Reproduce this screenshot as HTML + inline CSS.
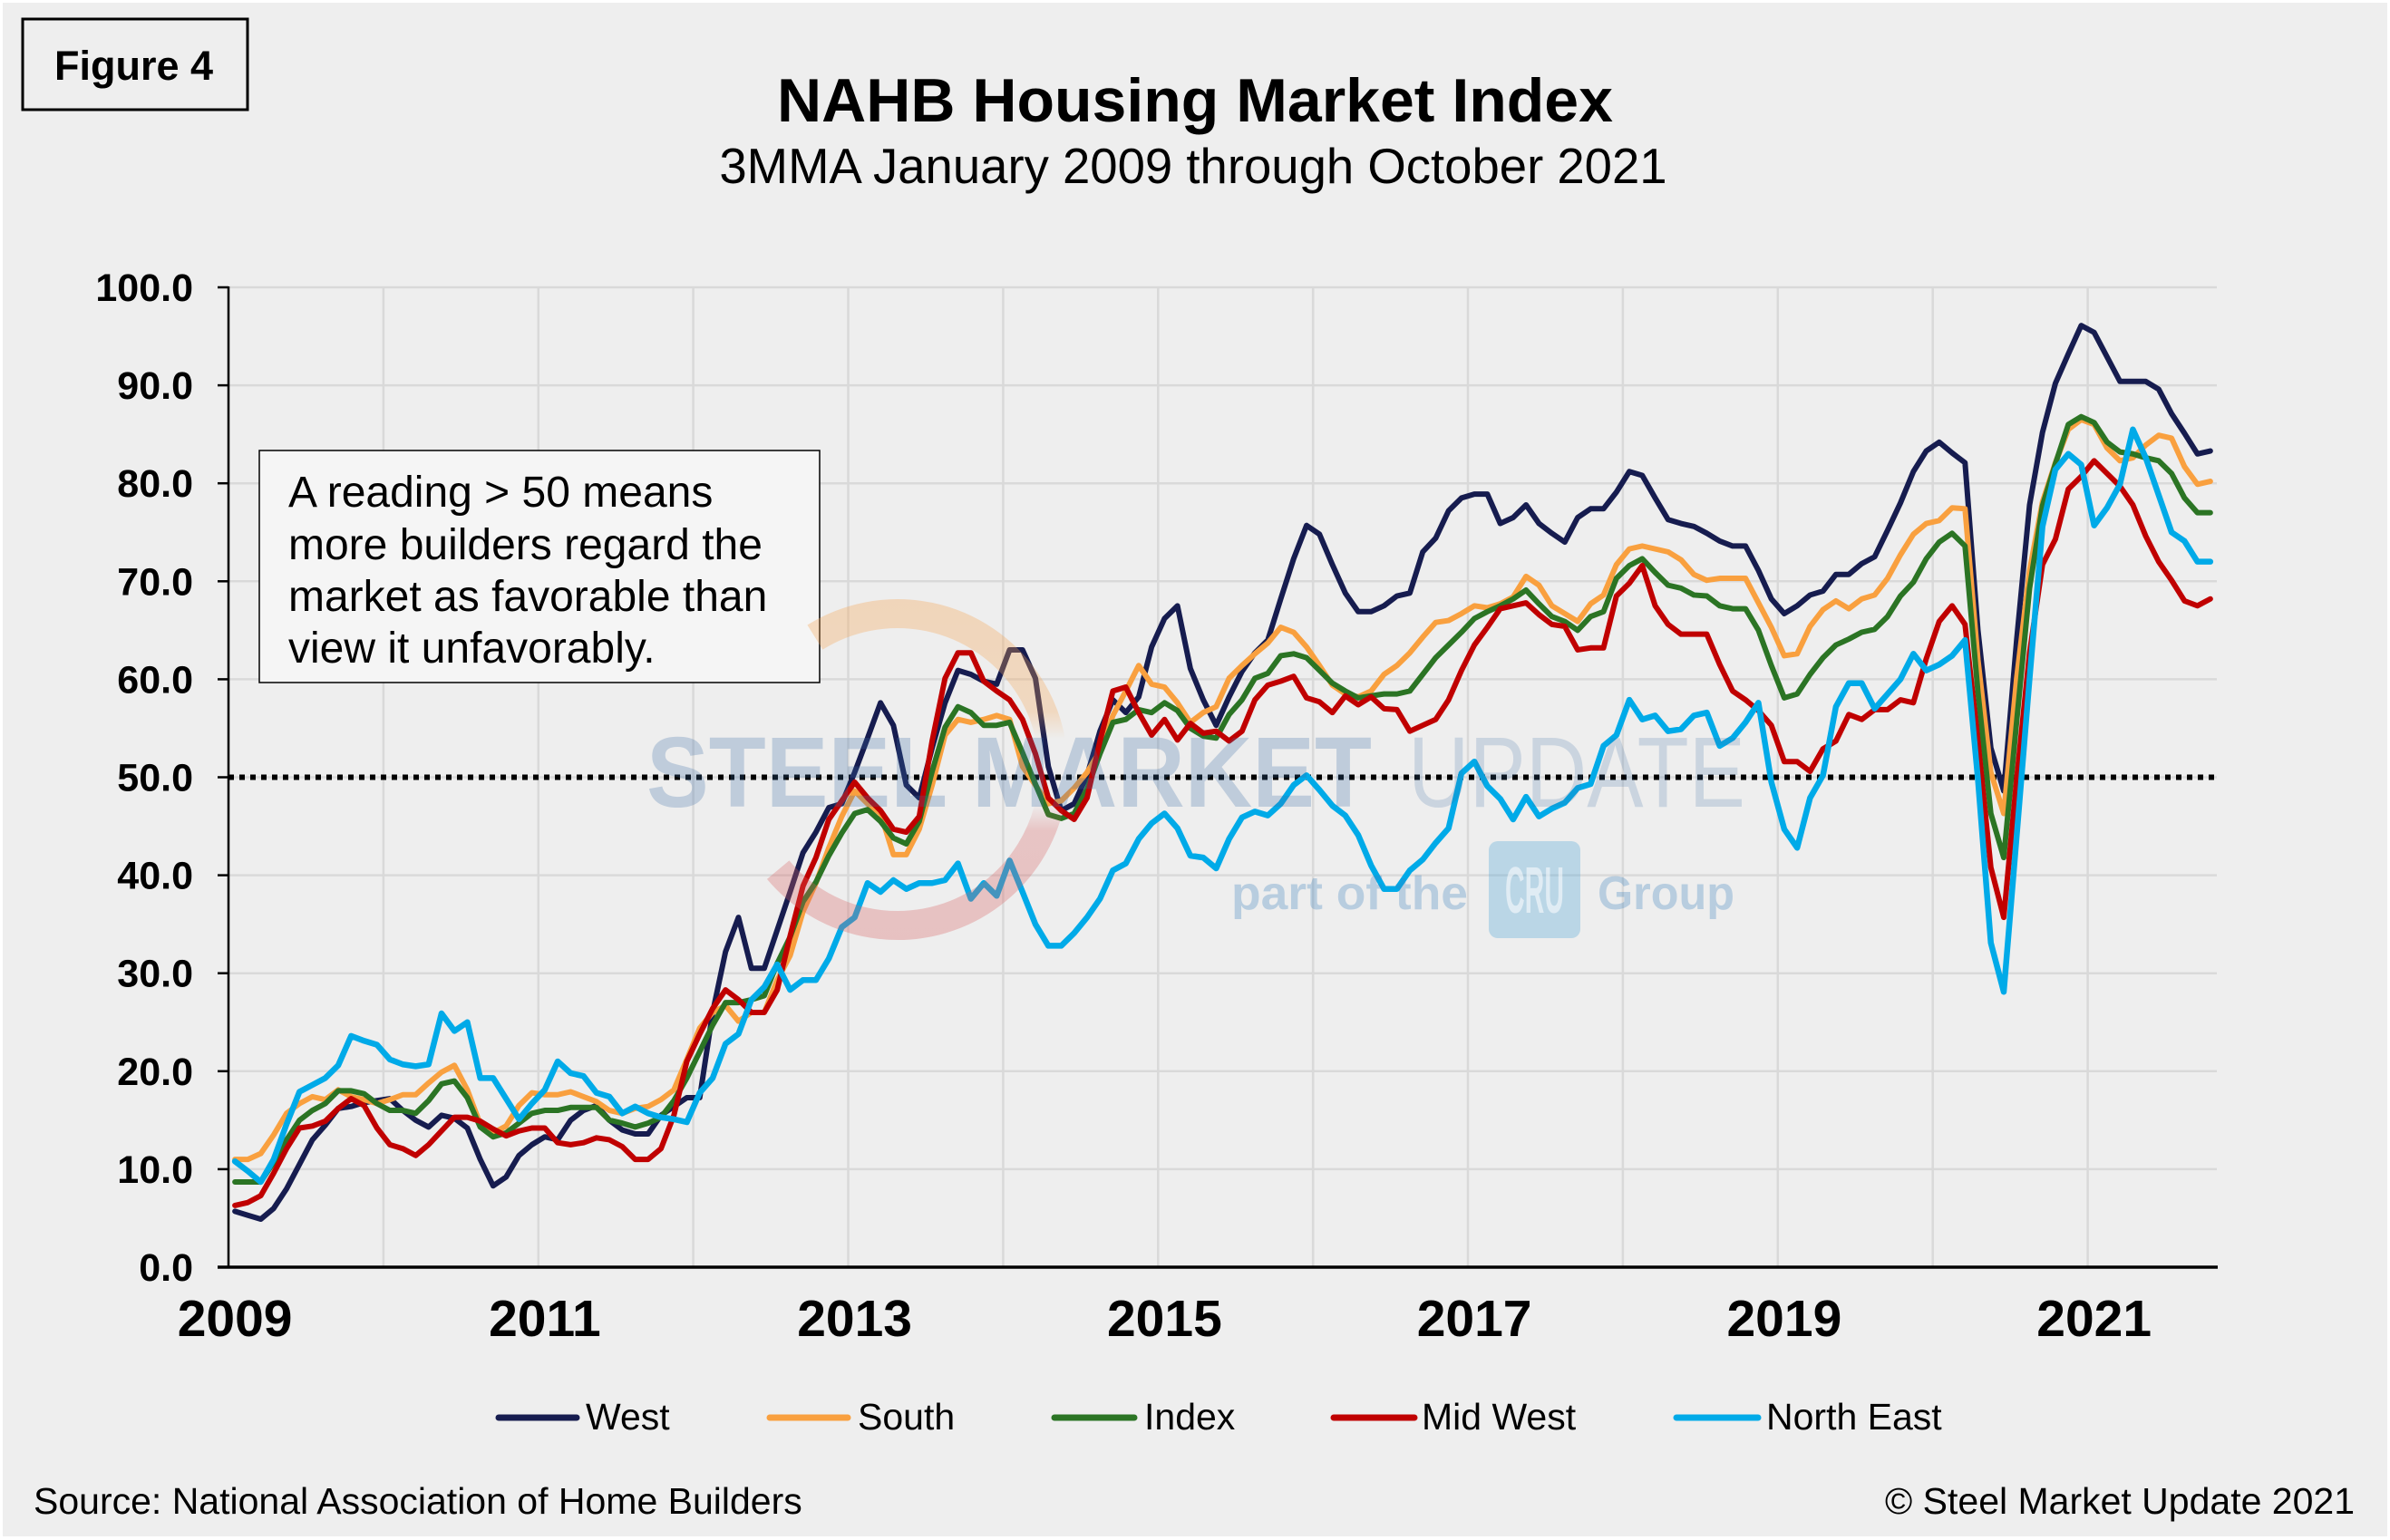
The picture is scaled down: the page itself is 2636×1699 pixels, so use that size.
<!DOCTYPE html>
<html>
<head>
<meta charset="utf-8">
<style>
  html,body{margin:0;padding:0;background:#ffffff;}
  svg{display:block;}
  text{font-family:"Liberation Sans",Arial,sans-serif;}
</style>
</head>
<body>
<svg xmlns="http://www.w3.org/2000/svg" width="2636" height="1699" viewBox="0 0 2636 1699">
  <defs>
    <linearGradient id="cres" x1="0" y1="661" x2="0" y2="1037" gradientUnits="userSpaceOnUse">
      <stop offset="0" stop-color="#F5A555" stop-opacity="0.34"/>
      <stop offset="0.33" stop-color="#F5A555" stop-opacity="0.3"/>
      <stop offset="0.41" stop-color="#F5A555" stop-opacity="0"/>
      <stop offset="0.6" stop-color="#D86262" stop-opacity="0"/>
      <stop offset="0.68" stop-color="#D86262" stop-opacity="0.3"/>
      <stop offset="1" stop-color="#D86262" stop-opacity="0.32"/>
    </linearGradient>
  </defs>

  <!-- background -->
  <rect x="0" y="0" width="2636" height="1699" fill="#ffffff"/>
  <rect x="3" y="3" width="2630" height="1692" fill="#EEEEEE"/>

  <!-- Figure box -->
  <rect x="25" y="21" width="248" height="100" fill="none" stroke="#000" stroke-width="3"/>
  <text x="60" y="88" font-size="45" font-weight="bold" fill="#000">Figure 4</text>

  <!-- Titles -->
  <text x="1318" y="134" font-size="68" font-weight="bold" text-anchor="middle" fill="#000">NAHB Housing Market Index</text>
  <text x="1316" y="202" font-size="54.5" text-anchor="middle" fill="#000">3MMA January 2009 through October 2021</text>

  <!-- Gridlines -->
  <g stroke="#D9D9D9" stroke-width="2.5">
    <line x1="252" y1="317" x2="2445" y2="317"/>
    <line x1="252" y1="425.1" x2="2445" y2="425.1"/>
    <line x1="252" y1="533.2" x2="2445" y2="533.2"/>
    <line x1="252" y1="641.3" x2="2445" y2="641.3"/>
    <line x1="252" y1="749.4" x2="2445" y2="749.4"/>
    <line x1="252" y1="857.5" x2="2445" y2="857.5"/>
    <line x1="252" y1="965.6" x2="2445" y2="965.6"/>
    <line x1="252" y1="1073.7" x2="2445" y2="1073.7"/>
    <line x1="252" y1="1181.8" x2="2445" y2="1181.8"/>
    <line x1="252" y1="1289.9" x2="2445" y2="1289.9"/>
    <line x1="422.9" y1="317" x2="422.9" y2="1398"/>
    <line x1="593.8" y1="317" x2="593.8" y2="1398"/>
    <line x1="764.6" y1="317" x2="764.6" y2="1398"/>
    <line x1="935.5" y1="317" x2="935.5" y2="1398"/>
    <line x1="1106.4" y1="317" x2="1106.4" y2="1398"/>
    <line x1="1277.3" y1="317" x2="1277.3" y2="1398"/>
    <line x1="1448.2" y1="317" x2="1448.2" y2="1398"/>
    <line x1="1619" y1="317" x2="1619" y2="1398"/>
    <line x1="1789.9" y1="317" x2="1789.9" y2="1398"/>
    <line x1="1960.8" y1="317" x2="1960.8" y2="1398"/>
    <line x1="2131.7" y1="317" x2="2131.7" y2="1398"/>
    <line x1="2302.6" y1="317" x2="2302.6" y2="1398"/>
  </g>

  <!-- Y axis + ticks -->
  <g stroke="#000" stroke-width="2.5">
    <line x1="252" y1="316" x2="252" y2="1398"/>
    <line x1="240" y1="317" x2="252" y2="317"/>
    <line x1="240" y1="425.1" x2="252" y2="425.1"/>
    <line x1="240" y1="533.2" x2="252" y2="533.2"/>
    <line x1="240" y1="641.3" x2="252" y2="641.3"/>
    <line x1="240" y1="749.4" x2="252" y2="749.4"/>
    <line x1="240" y1="857.5" x2="252" y2="857.5"/>
    <line x1="240" y1="965.6" x2="252" y2="965.6"/>
    <line x1="240" y1="1073.7" x2="252" y2="1073.7"/>
    <line x1="240" y1="1181.8" x2="252" y2="1181.8"/>
    <line x1="240" y1="1289.9" x2="252" y2="1289.9"/>
  </g>

  <!-- Y labels -->
  <g font-size="43" font-weight="bold" text-anchor="end" fill="#000">
    <text x="213" y="332">100.0</text>
    <text x="213" y="440.1">90.0</text>
    <text x="213" y="548.2">80.0</text>
    <text x="213" y="656.3">70.0</text>
    <text x="213" y="764.4">60.0</text>
    <text x="213" y="872.5">50.0</text>
    <text x="213" y="980.6">40.0</text>
    <text x="213" y="1088.7">30.0</text>
    <text x="213" y="1196.8">20.0</text>
    <text x="213" y="1304.9">10.0</text>
    <text x="213" y="1413">0.0</text>
  </g>

  <!-- X labels -->
  <g font-size="57" font-weight="bold" text-anchor="middle" fill="#000">
    <text x="259.1" y="1474">2009</text>
    <text x="600.9" y="1474">2011</text>
    <text x="942.6" y="1474">2013</text>
    <text x="1284.4" y="1474">2015</text>
    <text x="1626.1" y="1474">2017</text>
    <text x="1967.9" y="1474">2019</text>
    <text x="2309.7" y="1474">2021</text>
  </g>

  <!-- 50 dotted line -->
  <line x1="252" y1="857.5" x2="2442" y2="857.5" stroke="#000" stroke-width="6" stroke-dasharray="6 6"/>

  <!-- Annotation box -->
  <rect x="286" y="497" width="618" height="256" fill="#F5F5F5" stroke="#000" stroke-width="1.5"/>
  <g font-size="48" fill="#000">
    <text x="318" y="559">A reading &gt; 50 means</text>
    <text x="318" y="617">more builders regard the</text>
    <text x="318" y="674">market as favorable than</text>
    <text x="318" y="731">view it unfavorably.</text>
  </g>

  <!-- Data series -->
  <g transform="translate(259.12 1398) scale(14.24 -10.81)" fill="none" stroke-linejoin="round" stroke-linecap="round">
    <polyline vector-effect="non-scaling-stroke" stroke="#161C4F" stroke-width="6" points="0,5.7 1,5.3 2,4.9 3,6 4,8 5,10.5 6,13 7,14.5 8,16.2 9,16.4 10,16.8 11,17 12,17.2 13,16 14,15 15,14.3 16,15.5 17,15.2 18,14.2 19,11 20,8.3 21,9.2 22,11.4 23,12.5 24,13.3 25,13 26,15 27,16 28,16.5 29,15 30,14 31,13.6 32,13.6 33,15.5 34,16.4 35,17.3 36,17.3 37,26 38,32.2 39,35.7 40,30.5 41,30.5 42,34.4 43,38.3 44,42.3 45,44.4 46,46.9 47,47.3 48,50.5 49,54 50,57.6 51,55.3 52,49.2 53,47.9 54,53 55,57.6 56,60.9 57,60.5 58,59.8 59,59.5 60,63 61,63 62,60.1 63,51.1 64,46.6 65,47.3 66,50.2 67,54.7 68,57.9 69,56.6 70,58.2 71,63.3 72,66.2 73,67.5 74,61.1 75,57.9 76,55.3 77,58.2 78,60.8 79,62.7 80,64 81,68.2 82,72.3 83,75.7 84,74.8 85,71.7 86,68.8 87,66.9 88,66.9 89,67.5 90,68.5 91,68.8 92,73 93,74.4 94,77.2 95,78.5 96,78.9 97,78.9 98,75.9 99,76.5 100,77.8 101,75.9 102,74.9 103,74 104,76.5 105,77.4 106,77.4 107,79.1 108,81.2 109,80.8 110,78.5 111,76.3 112,75.9 113,75.6 114,74.9 115,74.1 116,73.6 117,73.6 118,71.1 119,68.2 120,66.7 121,67.5 122,68.6 123,69 124,70.7 125,70.7 126,71.8 127,72.5 128,75.2 129,78 130,81.2 131,83.3 132,84.2 133,83.1 134,82.1 135,65 136,53 137,48.6 138,64 139,77.8 140,85.2 141,90.2 142,93.2 143,96.1 144,95.4 145,92.9 146,90.4 147,90.4 148,90.4 149,89.6 150,87.1 151,85.1 152,83 153,83.3"/>
    <polyline vector-effect="non-scaling-stroke" stroke="#F9A03F" stroke-width="6" points="0,11 1,11 2,11.6 3,13.5 4,15.7 5,16.7 6,17.4 7,17.1 8,18.1 9,17.4 10,17.1 11,16.7 12,17.1 13,17.6 14,17.6 15,18.8 16,19.9 17,20.6 18,18.1 19,14.6 20,13.7 21,14.4 22,16.5 23,17.8 24,17.6 25,17.6 26,17.9 27,17.4 28,16.9 29,16 30,15.7 31,16.2 32,16.4 33,17.1 34,18.1 35,21.2 36,24.4 37,26 38,26.7 39,25.1 40,26 41,26 42,29.3 43,31.8 44,36.3 45,39.2 46,42.8 47,46 48,48.6 49,47.3 50,46.3 51,42.1 52,42.1 53,44.7 54,49.2 55,54.3 56,55.9 57,55.6 58,55.9 59,56.3 60,55.9 61,51.1 62,49.2 63,47.3 64,47.6 65,48.9 66,50.5 67,52.7 68,56.3 69,58.8 70,61.4 71,59.5 72,59.2 73,57.6 74,55.6 75,56.6 76,57.2 77,60.1 78,61.4 79,62.6 80,63.7 81,65.3 82,64.8 83,63.3 84,61.4 85,59.4 86,58.5 87,58.2 88,58.8 89,60.5 90,61.4 91,62.7 92,64.3 93,65.8 94,66 95,66.7 96,67.5 97,67.3 98,67.7 99,68.4 100,70.5 101,69.6 102,67.5 103,66.7 104,65.9 105,67.7 106,68.6 107,71.7 108,73.3 109,73.6 110,73.3 111,73 112,72.2 113,70.7 114,70.1 115,70.3 116,70.3 117,70.3 118,67.8 119,65.3 120,62.4 121,62.6 122,65.4 123,67.1 124,68 125,67.2 126,68.2 127,68.6 128,70.3 129,72.7 130,74.8 131,75.9 132,76.2 133,77.5 134,77.4 135,62 136,50.5 137,46.3 138,60.1 139,71.1 140,78.1 141,82.1 142,85.5 143,86.5 144,86 145,83.6 146,82.3 147,82.6 148,83.9 149,84.9 150,84.6 151,81.7 152,79.9 153,80.2"/>
    <polyline vector-effect="non-scaling-stroke" stroke="#2B7424" stroke-width="6" points="0,8.7 1,8.7 2,8.7 3,10.7 4,13 5,15 6,16 7,16.7 8,18 9,18 10,17.7 11,16.7 12,16 13,16 14,15.7 15,17 16,18.7 17,19 18,17.3 19,14.3 20,13.3 21,13.7 22,14.7 23,15.7 24,16 25,16 26,16.3 27,16.3 28,16.3 29,15 30,14.7 31,14.3 32,14.7 33,15.3 34,17 35,19.3 36,22 37,24.7 38,27 39,27 40,27.3 41,27.7 42,31 43,33.7 44,37.3 45,39.3 46,42 47,44.3 48,46.3 49,46.7 50,45.5 51,43.8 52,43.2 53,45.5 54,50.6 55,55.1 56,57.2 57,56.6 58,55.3 59,55.3 60,55.6 61,52.5 62,49.3 63,46.2 64,45.8 65,46.3 66,48.8 67,52.4 68,55.6 69,55.9 70,56.9 71,56.6 72,57.6 73,56.8 74,55 75,54.2 76,54 77,56.4 78,57.9 79,60.1 80,60.6 81,62.4 82,62.6 83,62.2 84,60.9 85,59.6 86,58.8 87,58.1 88,58.3 89,58.5 90,58.5 91,58.8 92,60.5 93,62.2 94,63.5 95,64.8 96,66.2 97,66.9 98,67.5 99,68.2 100,69.1 101,67.7 102,66.4 103,65.9 104,65 105,66.4 106,66.9 107,70.3 108,71.6 109,72.3 110,70.9 111,69.6 112,69.3 113,68.6 114,68.5 115,67.5 116,67.2 117,67.2 118,65 119,61.4 120,58.1 121,58.5 122,60.5 123,62.2 124,63.5 125,64.1 126,64.8 127,65.1 128,66.4 129,68.5 130,69.9 131,72.3 132,74 133,74.9 134,73.6 135,58.7 136,46.3 137,41.8 138,55.7 139,69.3 140,77.7 141,82 142,86 143,86.8 144,86.2 145,84.2 146,83.2 147,83 148,82.6 149,82.3 150,81 151,78.5 152,77 153,77"/>
    <polyline vector-effect="non-scaling-stroke" stroke="#C00000" stroke-width="6" points="0,6.3 1,6.6 2,7.3 3,9.6 4,12.1 5,14.2 6,14.4 7,14.9 8,16.2 9,17.2 10,16.5 11,14.2 12,12.5 13,12.1 14,11.4 15,12.5 16,13.9 17,15.3 18,15.3 19,14.9 20,14.1 21,13.4 22,13.9 23,14.2 24,14.2 25,12.7 26,12.5 27,12.7 28,13.2 29,13 30,12.3 31,11 32,11 33,12.1 34,15.5 35,21 36,23.8 37,26.4 38,28.3 39,27.3 40,26 41,26 42,28.3 43,33.8 44,38.9 45,41.8 46,45.7 47,47.6 48,49.5 49,47.9 50,46.6 51,44.7 52,44.4 53,46 54,53.7 55,60.1 56,62.7 57,62.7 58,59.8 59,58.8 60,57.9 61,55.9 62,52.4 63,47.9 64,46.6 65,45.7 66,47.9 67,53.7 68,58.8 69,59.2 70,56.6 71,54.3 72,55.9 73,53.8 74,55.5 75,54.5 76,54.7 77,53.7 78,54.7 79,57.9 80,59.4 81,59.8 82,60.3 83,58.1 84,57.7 85,56.6 86,58.3 87,57.4 88,58.2 89,57 90,56.9 91,54.7 92,55.3 93,55.9 94,57.9 95,60.9 96,63.5 97,65.3 98,67.2 99,67.5 100,67.8 101,66.6 102,65.6 103,65.4 104,63 105,63.2 106,63.2 107,68.5 108,69.8 109,71.6 110,67.5 111,65.6 112,64.6 113,64.6 114,64.6 115,61.5 116,58.8 117,57.9 118,56.8 119,55.3 120,51.6 121,51.6 122,50.6 123,52.9 124,53.7 125,56.4 126,55.9 127,56.9 128,56.9 129,57.9 130,57.6 131,62.1 132,65.9 133,67.5 134,65.6 135,53.7 136,40.8 137,35.7 138,49.8 139,62.7 140,71.7 141,74.3 142,79.4 143,80.7 144,82.3 145,81 146,79.7 147,77.8 148,74.6 149,72 150,70.1 151,68 152,67.5 153,68.2"/>
    <polyline vector-effect="non-scaling-stroke" stroke="#00AAE8" stroke-width="6.5" points="0,10.8 1,9.8 2,8.7 3,11 4,14.6 5,17.9 6,18.6 7,19.3 8,20.6 9,23.6 10,23.1 11,22.7 12,21.2 13,20.7 14,20.5 15,20.7 16,25.9 17,24.1 18,25 19,19.3 20,19.3 21,17.2 22,15.1 23,16.7 24,18.1 25,21 26,19.8 27,19.5 28,17.8 29,17.4 30,15.7 31,16.4 32,15.7 33,15.3 34,15.1 35,14.8 36,17.8 37,19.3 38,22.8 39,23.8 40,27.3 41,28.6 42,30.9 43,28.3 44,29.3 45,29.3 46,31.5 47,34.7 48,35.7 49,39.2 50,38.3 51,39.5 52,38.6 53,39.2 54,39.2 55,39.5 56,41.2 57,37.6 58,39.2 59,37.9 60,41.5 61,38.3 62,35 63,32.8 64,32.8 65,34.1 66,35.7 67,37.6 68,40.5 69,41.2 70,43.7 71,45.3 72,46.3 73,44.8 74,42 75,41.8 76,40.7 77,43.7 78,45.9 79,46.5 80,46.1 81,47.3 82,49.2 83,50.2 84,48.7 85,47.1 86,46.1 87,44.1 88,41 89,38.6 90,38.6 91,40.5 92,41.6 93,43.3 94,44.8 95,50.4 96,51.6 97,49.1 98,47.8 99,45.7 100,48 101,46 102,46.8 103,47.4 104,48.9 105,49.3 106,53.2 107,54.3 108,57.9 109,55.9 110,56.3 111,54.7 112,54.9 113,56.3 114,56.6 115,53.2 116,54 117,55.6 118,57.6 119,49.5 120,44.7 121,42.8 122,47.9 123,50.2 124,57.2 125,59.6 126,59.6 127,57 128,58.5 129,60 130,62.6 131,60.9 132,61.5 133,62.4 134,64 135,49.8 136,33.1 137,28.1 138,44 139,60.1 140,75.6 141,81.4 142,83 143,81.9 144,75.7 145,77.5 146,79.9 147,85.5 148,82.6 149,78.8 150,75 151,74.1 152,72 153,72"/>
  </g>

  <!-- X axis (on top of series) -->
  <line x1="240" y1="1398" x2="2446" y2="1398" stroke="#000" stroke-width="3.5"/>

  <!-- Watermark -->
  <path d="M898.9,703.1 A172,172 0 1 1 858.2,959.6" fill="none" stroke="url(#cres)" stroke-width="32"/>
  <text x="713" y="890" font-size="110" font-weight="bold" fill="#3A6EA5" fill-opacity="0.26" textLength="800" lengthAdjust="spacingAndGlyphs">STEEL MARKET</text>
  <text x="1553" y="890" font-size="110" fill="#3A6EA5" fill-opacity="0.2" textLength="372" lengthAdjust="spacingAndGlyphs">UPDATE</text>
  <text x="1358" y="1003" font-size="52" font-weight="bold" fill="#3C82BE" fill-opacity="0.3" textLength="261" lengthAdjust="spacingAndGlyphs">part of the</text>
  <rect x="1642" y="928" width="101" height="107" rx="10" fill="#5AA8D8" fill-opacity="0.35"/>
  <text x="1660" y="1007" font-size="72" font-weight="bold" fill="#ffffff" fill-opacity="0.55" textLength="65" lengthAdjust="spacingAndGlyphs">CRU</text>
  <text x="1762" y="1003" font-size="52" font-weight="bold" fill="#3C82BE" fill-opacity="0.3" textLength="151" lengthAdjust="spacingAndGlyphs">Group</text>

  <!-- Legend -->
  <g stroke-width="7" stroke-linecap="round">
    <line x1="550" y1="1564" x2="636" y2="1564" stroke="#161C4F"/>
    <line x1="849" y1="1564" x2="935" y2="1564" stroke="#F9A03F"/>
    <line x1="1163" y1="1564" x2="1251" y2="1564" stroke="#2B7424"/>
    <line x1="1471" y1="1564" x2="1560" y2="1564" stroke="#C00000"/>
    <line x1="1849" y1="1564" x2="1939" y2="1564" stroke="#00AAE8"/>
  </g>
  <g font-size="41" fill="#000">
    <text x="646" y="1577">West</text>
    <text x="946" y="1577">South</text>
    <text x="1262" y="1577">Index</text>
    <text x="1568" y="1577">Mid West</text>
    <text x="1948" y="1577">North East</text>
  </g>

  <!-- Footer -->
  <text x="37" y="1670" font-size="41" fill="#000">Source: National Association of Home Builders</text>
  <text x="2597" y="1670" font-size="41" text-anchor="end" fill="#000">© Steel Market Update 2021</text>
</svg>
</body>
</html>
